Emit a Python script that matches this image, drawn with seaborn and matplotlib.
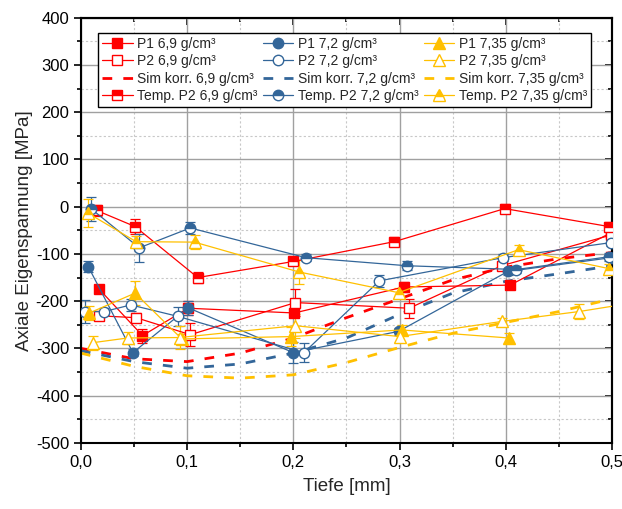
import matplotlib
matplotlib.use("Agg")
import matplotlib.pyplot as plt
import seaborn as sns
import pandas
from matplotlib.ticker import MultipleLocator, FuncFormatter, NullFormatter

# measured data (Tiefe [mm], Eigenspannung [MPa], error)
p1_69_x = [0.017, 0.058, 0.101, 0.201, 0.304, 0.404, 0.499]
p1_69_y = [-174, -273, -215, -225, -170, -166, -55]
p1_69_e = [8, 15, 15, 8, 10, 8, 8]

p2_69_x = [0.017, 0.052, 0.103, 0.202, 0.309, 0.396, 0.499]
p2_69_y = [-231, -235, -271, -203, -215, -125, -60]
p2_69_e = [8, 10, 25, 28, 20, 8, 8]

tmp_69_x = [0.015, 0.051, 0.110, 0.200, 0.295, 0.399, 0.497]
tmp_69_y = [-8, -42, -150, -116, -74, -4, -42]
tmp_69_e = [12, 15, 12, 8, 10, 10, 10]

p1_72_x = [0.007, 0.049, 0.101, 0.200, 0.299, 0.402, 0.499]
p1_72_y = [-127, -309, -214, -309, -264, -137, -108]
p1_72_e = [12, 8, 15, 22, 8, 8, 8]

p2_72_x = [0.004, 0.022, 0.047, 0.091, 0.210, 0.281, 0.397, 0.499]
p2_72_y = [-222, -222, -208, -232, -309, -157, -108, -76]
p2_72_e = [25, 8, 12, 20, 20, 12, 8, 8]

tmp_72_x = [0.010, 0.055, 0.103, 0.212, 0.307, 0.410, 0.497]
tmp_72_y = [-5, -87, -45, -108, -125, -133, -106]
tmp_72_e = [25, 30, 12, 8, 10, 8, 8]

p1_735_x = [0.008, 0.051, 0.095, 0.198, 0.302, 0.403]
p1_735_y = [-225, -183, -280, -275, -261, -278]
p1_735_e = [15, 25, 10, 20, 10, 10]

p2_735_x = [0.011, 0.044, 0.093, 0.202, 0.300, 0.396, 0.469, 0.53]
p2_735_y = [-288, -278, -277, -252, -275, -243, -222, -200]
p2_735_e = [15, 12, 25, 25, 10, 8, 15, 0]

tmp_735_x = [0.007, 0.052, 0.107, 0.205, 0.299, 0.412, 0.497]
tmp_735_y = [-14, -74, -75, -138, -182, -91, -131]
tmp_735_e = [30, 12, 15, 25, 10, 10, 10]

# simulation (corrected)
sim_x = [0.0, 0.05, 0.1, 0.15, 0.2, 0.25, 0.3, 0.35, 0.4, 0.45, 0.5]
sim_69 = [-300, -322, -328, -310, -278, -235, -195, -155, -128, -110, -97]
sim_72 = [-305, -328, -342, -333, -310, -278, -228, -183, -158, -142, -125]
sim_735 = [-310, -338, -358, -363, -356, -330, -298, -268, -245, -222, -195]

red = "#FF0000"
blue = "#336699"
yellow = "#FFC000"

sns.set_style("ticks")
plt.rcParams["font.family"] = ["Liberation Sans", "DejaVu Sans"]
plt.rcParams["axes.unicode_minus"] = False

fig = plt.figure(figsize=(6.22, 5.09), dpi=100)
ax = fig.add_axes([0.130, 0.130, 0.854, 0.835])


def meas(x, y, e, color, marker, fill, label):
    df = pandas.DataFrame({"x": x, "y": y})
    if fill == "full":
        kw = dict(markerfacecolor=color)
    elif fill == "none":
        kw = dict(markerfacecolor="white")
    else:
        kw = dict(markerfacecolor=color, fillstyle="top", markerfacecoloralt="white")
    ms = 8.5 if marker == "^" else 7.5
    sns.lineplot(data=df, x="x", y="y", ax=ax, color=color, lw=0.9, marker=marker,
                 markersize=ms, markeredgecolor=color, markeredgewidth=1.0,
                 sort=False, estimator=None, label=label, zorder=3, **kw)
    ax.errorbar(x, y, yerr=e, fmt="none", ecolor=color, elinewidth=0.9,
                capsize=3.5, capthick=0.9, zorder=2)


def sim(y, color, label):
    df = pandas.DataFrame({"x": sim_x, "y": y})
    sns.lineplot(data=df, x="x", y="y", ax=ax, color=color, lw=2.0,
                 dashes=(3.5, 4), label=label, zorder=2)


meas(p1_69_x, p1_69_y, p1_69_e, red, "s", "full", "P1 6,9 g/cm³")
meas(p2_69_x, p2_69_y, p2_69_e, red, "s", "none", "P2 6,9 g/cm³")
sim(sim_69, red, "Sim korr. 6,9 g/cm³")
meas(tmp_69_x, tmp_69_y, tmp_69_e, red, "s", "half", "Temp. P2 6,9 g/cm³")

meas(p1_72_x, p1_72_y, p1_72_e, blue, "o", "full", "P1 7,2 g/cm³")
meas(p2_72_x, p2_72_y, p2_72_e, blue, "o", "none", "P2 7,2 g/cm³")
sim(sim_72, blue, "Sim korr. 7,2 g/cm³")
meas(tmp_72_x, tmp_72_y, tmp_72_e, blue, "o", "half", "Temp. P2 7,2 g/cm³")

meas(p1_735_x, p1_735_y, p1_735_e, yellow, "^", "full", "P1 7,35 g/cm³")
meas(p2_735_x, p2_735_y, p2_735_e, yellow, "^", "none", "P2 7,35 g/cm³")
sim(sim_735, yellow, "Sim korr. 7,35 g/cm³")
meas(tmp_735_x, tmp_735_y, tmp_735_e, yellow, "^", "half", "Temp. P2 7,35 g/cm³")

ax.set_xlim(0, 0.5)
ax.set_ylim(-500, 400)
ax.xaxis.set_major_locator(MultipleLocator(0.1))
ax.xaxis.set_minor_locator(MultipleLocator(0.05))
ax.yaxis.set_major_locator(MultipleLocator(100))
ax.yaxis.set_minor_locator(MultipleLocator(50))
ax.xaxis.set_major_formatter(FuncFormatter(lambda v, p: f"{v:.1f}".replace(".", ",")))
ax.yaxis.set_major_formatter(FuncFormatter(lambda v, p: f"{v:.0f}"))

ax.grid(which="major", color="#A0A0A0", lw=1.0, ls="-")
ax.grid(which="minor", color="#C8C8C8", lw=0.8, ls=(0, (2, 2)))
ax.set_axisbelow(True)

for s in ax.spines.values():
    s.set_color("black")
    s.set_linewidth(1.5)
ax.tick_params(which="both", direction="out", colors="black", labelsize=12,
               top=False, right=False, width=1.2)
ax.tick_params(which="major", length=5)
ax.tick_params(which="minor", length=3)

# inward ticks on the right and top frame
sy = ax.secondary_yaxis("right")
sx = ax.secondary_xaxis("top")
for sec in (sy, sx):
    for s in sec.spines.values():
        s.set_linewidth(1.5)
    sec.tick_params(which="both", direction="in", width=1.2, colors="black")
    sec.tick_params(which="major", length=5)
    sec.tick_params(which="minor", length=3)
sy.yaxis.set_major_locator(MultipleLocator(100))
sy.yaxis.set_minor_locator(MultipleLocator(50))
sy.yaxis.set_major_formatter(NullFormatter())
sx.xaxis.set_major_locator(MultipleLocator(0.1))
sx.xaxis.set_minor_locator(MultipleLocator(0.05))
sx.xaxis.set_major_formatter(NullFormatter())

ax.set_xlabel("Tiefe [mm]", fontsize=13.5, labelpad=6)
ax.set_ylabel("Axiale Eigenspannung [MPa]", fontsize=13.5, labelpad=2)

leg = ax.legend(ncol=3, loc="upper left", bbox_to_anchor=(0.032, 0.965),
                borderaxespad=0, fontsize=10, frameon=True, fancybox=False,
                handlelength=2.2, columnspacing=0.35, handletextpad=0.35,
                labelspacing=0.25, borderpad=0.3)
leg.get_frame().set_edgecolor("black")
leg.get_frame().set_linewidth(1.0)
leg.get_frame().set_alpha(1)
leg.set_zorder(10)

plt.savefig("out.png", dpi=100)
plt.close()
